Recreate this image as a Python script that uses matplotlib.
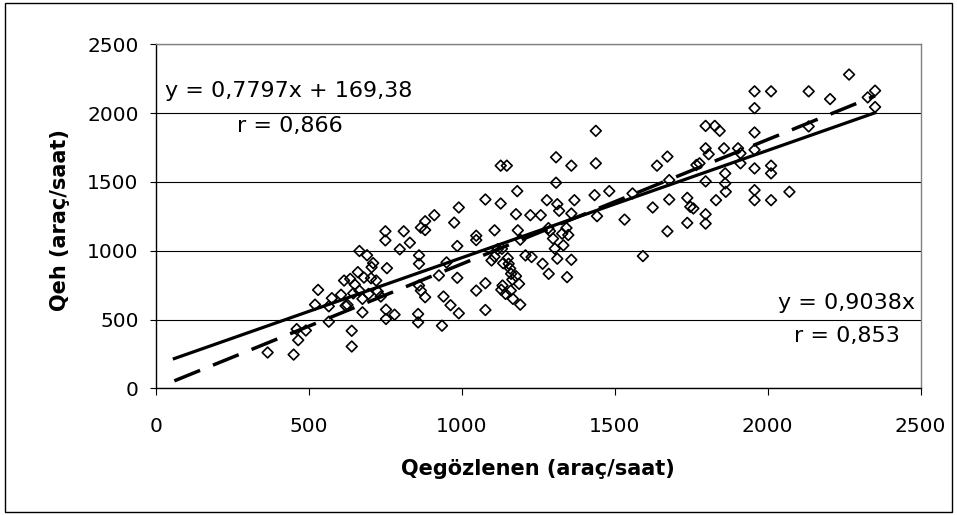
import matplotlib.pyplot as plt
import numpy as np
from matplotlib.patches import Rectangle

# observed vs. estimated flow (veh/h)
q_obs = [365, 450, 460, 465, 490, 520, 530, 565, 565, 575, 605, 615, 620, 626, 635,
         640, 640, 645, 650, 660, 665, 665, 675, 675, 680, 690, 695, 703, 705, 710,
         720, 725, 735, 750, 750, 752, 752, 755, 780, 797, 810, 830, 857, 857, 860,
         860, 860, 866, 866, 880, 880, 880, 910, 925, 935, 940, 950, 963, 975, 985,
         985, 990, 990, 1047, 1047, 1047, 1077, 1077, 1077, 1097, 1107, 1107, 1117,
         1127, 1127, 1129, 1131, 1133, 1135, 1143, 1147, 1150, 1153, 1158, 1160, 1161,
         1165, 1167, 1177, 1177, 1181, 1183, 1187, 1191, 1191, 1208, 1224, 1228, 1258,
         1264, 1278, 1283, 1284, 1288, 1298, 1304, 1308, 1308, 1312, 1312, 1318, 1328,
         1332, 1342, 1344, 1348, 1358, 1358, 1358, 1368, 1434, 1438, 1438, 1442, 1482,
         1532, 1558, 1592, 1624, 1638, 1672, 1672, 1678, 1678, 1737, 1737, 1747, 1757,
         1767, 1777, 1797, 1797, 1797, 1797, 1797, 1807, 1827, 1831, 1843, 1857, 1861,
         1861, 1863, 1903, 1911, 1911, 1957, 1957, 1957, 1957, 1957, 1957, 1957, 2011,
         2011, 2011, 2011, 2071, 2134, 2134, 2204, 2266, 2327, 2351, 2351]
q_est = [260, 245, 430, 350, 420, 608, 715, 484, 596, 655, 680, 783, 600, 606, 795,
         418, 304, 690, 754, 844, 998, 710, 552, 650, 805, 967, 686, 800, 880, 910,
         783, 703, 667, 1141, 1075, 572, 504, 873, 535, 1010, 1141, 1058, 479, 540, 747,
         966, 905, 710, 1168, 1214, 1150, 662, 1258, 820, 455, 667, 915, 604, 1204, 1034,
         803, 545, 1314, 1109, 1077, 710, 1372, 569, 764, 929, 1148, 957, 1011,
         1343, 1618, 716, 1014, 747, 909, 686, 1618, 946, 905, 870, 710, 832,
         790, 650, 815, 1265, 1433, 1148, 759, 608, 1080, 966, 1258, 954, 1258,
         905, 1367, 1164, 832, 1143, 1088, 1015, 1679, 1494, 1338, 942, 1290, 1124,
         1039, 1165, 808, 1114, 1618, 934, 1270, 1367, 1404, 1871, 1635, 1251, 1433,
         1226, 1416, 961, 1314, 1618, 1684, 1141, 1372, 1513, 1384, 1202, 1319, 1307,
         1623, 1635, 1907, 1744, 1504, 1265, 1197, 1701, 1907, 1367, 1871, 1744, 1562,
         1489, 1428, 1744, 1635, 1708, 2158, 2036, 1859, 1733, 1598, 1440, 1367, 2158,
         1618, 1562, 1367, 1428, 2158, 1903, 2102, 2280, 2114, 2163, 2044]

# trend lines: linear fit, and fit forced through the origin
fit_slope, fit_icpt, fit_r = 0.7797, 169.38, 0.866
orig_slope, orig_r = 0.9038, 0.853
trend_span = [60, 2351]


def tr(v, nd):
    return f"{v:.{nd}f}".replace(".", ",")


plt.rcParams["font.family"] = "DejaVu Sans"
plt.rcParams["lines.scale_dashes"] = False

fig = plt.figure(figsize=(9.57, 5.15), dpi=100)
ax = fig.add_axes([0.163, 0.246, 0.799, 0.668])

ticks = np.arange(0, 2501, 500)
ax.set_xlim(0, 2500)
ax.set_ylim(0, 2500)
ax.set_xticks(ticks)
ax.set_yticks(ticks)
ax.yaxis.grid(True, color="black", linewidth=0.8)
ax.set_axisbelow(True)

ax.scatter(q_obs, q_est, marker="D", s=30, facecolors="none",
           edgecolors="black", linewidths=1.2, zorder=3)

xs = np.array(trend_span, dtype=float)
ax.plot(xs, fit_slope * xs + fit_icpt, color="black", lw=2.3, zorder=4)
ax.plot(xs, orig_slope * xs, color="black", lw=2.5, dashes=(20, 10), zorder=4)

ax.text(30, 2157, f"y = {tr(fit_slope, 4)}x + {tr(fit_icpt, 2)}",
        fontsize=16, ha="left", va="center")
ax.text(266, 1903, f"r = {tr(fit_r, 3)}", fontsize=16, ha="left", va="center")
ax.text(2482, 620, f"y = {tr(orig_slope, 4)}x", fontsize=16, ha="right", va="center")
ax.text(2433, 380, f"r = {tr(orig_r, 3)}", fontsize=16, ha="right", va="center")

for side in ("top", "right"):
    ax.spines[side].set_color("#808080")
    ax.spines[side].set_linewidth(1.0)
for side in ("left", "bottom"):
    ax.spines[side].set_color("black")
    ax.spines[side].set_linewidth(1.0)

ax.tick_params(axis="x", direction="out", length=5, width=0.8, pad=16, labelsize=14.5)
ax.tick_params(axis="y", direction="out", length=4, width=0.8, pad=8.5, labelsize=14.5)

ax.set_xlabel("Qegözlenen (araç/saat)", fontsize=15, fontweight="bold", va="center")
ax.xaxis.set_label_coords(0.5, -0.235)
ax.set_ylabel("Qeh (araç/saat)", fontsize=15, fontweight="bold", va="center")
ax.yaxis.set_label_coords(-0.126, 0.49)

fig.add_artist(Rectangle((5 / 957, 3 / 515), 947 / 957, 509 / 515,
                         transform=fig.transFigure, fill=False,
                         edgecolor="black", linewidth=1.0))

fig.savefig("out.png", dpi=100)
